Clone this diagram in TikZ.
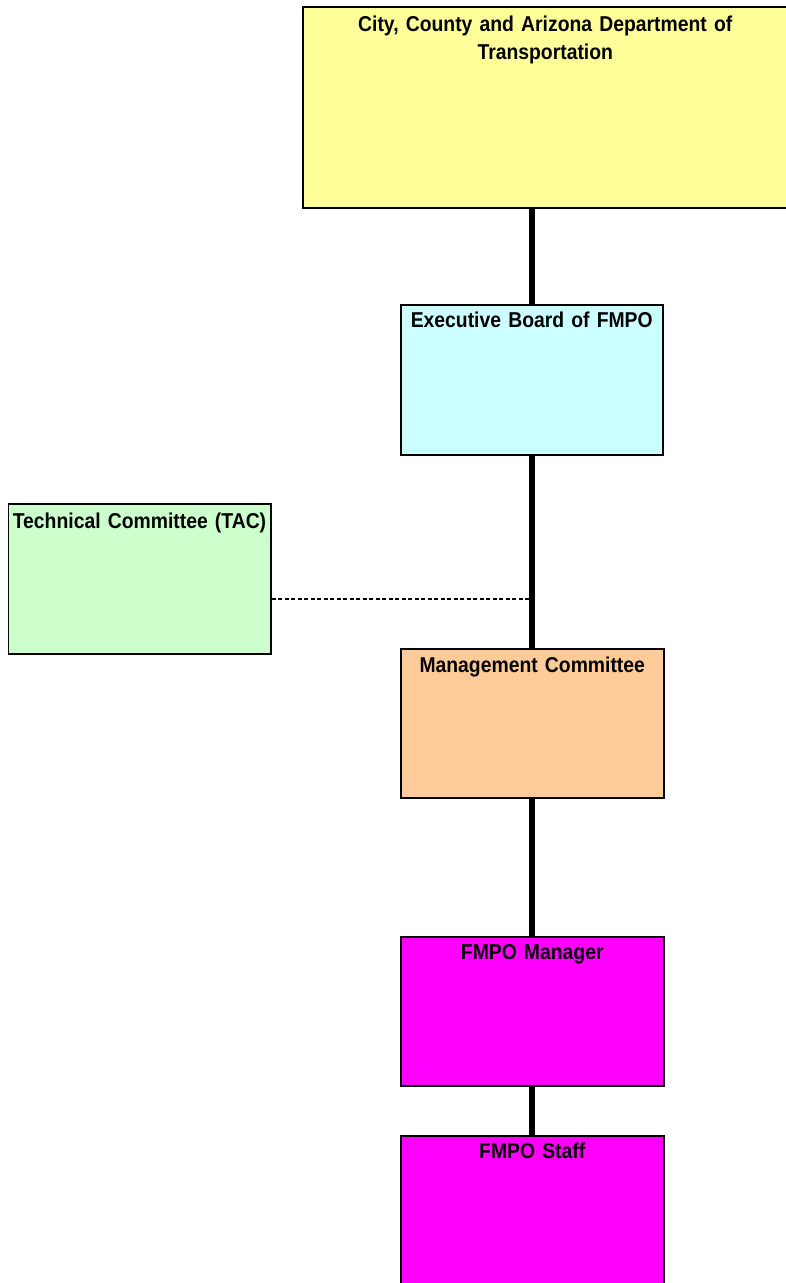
\documentclass[tikz,border=0pt]{standalone}
\usepackage{fontspec}
\setmainfont[FakeStretch=0.9, WordSpace=0.75]{Liberation Sans}
\usetikzlibrary{positioning}

\definecolor{dotyellow}{HTML}{FFFF99}
\definecolor{boardcyan}{HTML}{CCFFFF}
\definecolor{tacgreen}{HTML}{CCFFCC}
\definecolor{mgmtorange}{HTML}{FFCC99}
\definecolor{staffpink}{HTML}{FF00FF}

\tikzset{
  orgbox/.style={draw=black, line width=1.5pt, inner sep=0pt, anchor=north west,
    align=center, font=\fontsize{21.5}{28}\selectfont\bfseries},
  chain/.style={line width=5.7pt},
  tie/.style={line width=1.3pt, dash pattern=on 4pt off 2.5pt}
}

\begin{document}
\begin{tikzpicture}[x=1pt, y=-1pt]

\useasboundingbox (0,0) rectangle (786,1283);

\node[orgbox, fill=dotyellow, text width=485pt, text height=25pt, text depth=176pt]
  (dot) at (302,6) {City, County and Arizona Department of\\Transportation};
\node[orgbox, fill=boardcyan, text width=262pt, text height=23pt, text depth=127pt]
  (board) at (400,304) {Executive Board of FMPO};
\node[orgbox, fill=tacgreen, text width=262.5pt, text height=25pt, text depth=125pt]
  (tac) at (7.5,503) {Technical Committee (TAC)};
\node[orgbox, fill=mgmtorange, text width=263pt, text height=24pt, text depth=125pt]
  (mgmt) at (400,648) {Management Committee};
\node[orgbox, fill=staffpink, text width=263pt, text height=23pt, text depth=126pt]
  (manager) at (400,936) {FMPO Manager};
\node[orgbox, fill=staffpink, text width=263pt, text height=23pt, text depth=127pt]
  (staff) at (400,1135) {FMPO Staff};

% reporting line, all on one vertical
\draw[chain] (board.north |- dot.south) -- (board.north);
\draw[chain] (board.south) -- (board.south |- mgmt.north);
\draw[chain] (board.south |- mgmt.south) -- (board.south |- manager.north);
\draw[chain] (board.south |- manager.south) -- (board.south |- staff.north);

% advisory link
\coordinate (join) at (board.south |- 0,599);
\draw[tie] (join -| tac.east) -- (join);

\end{tikzpicture}
\end{document}
